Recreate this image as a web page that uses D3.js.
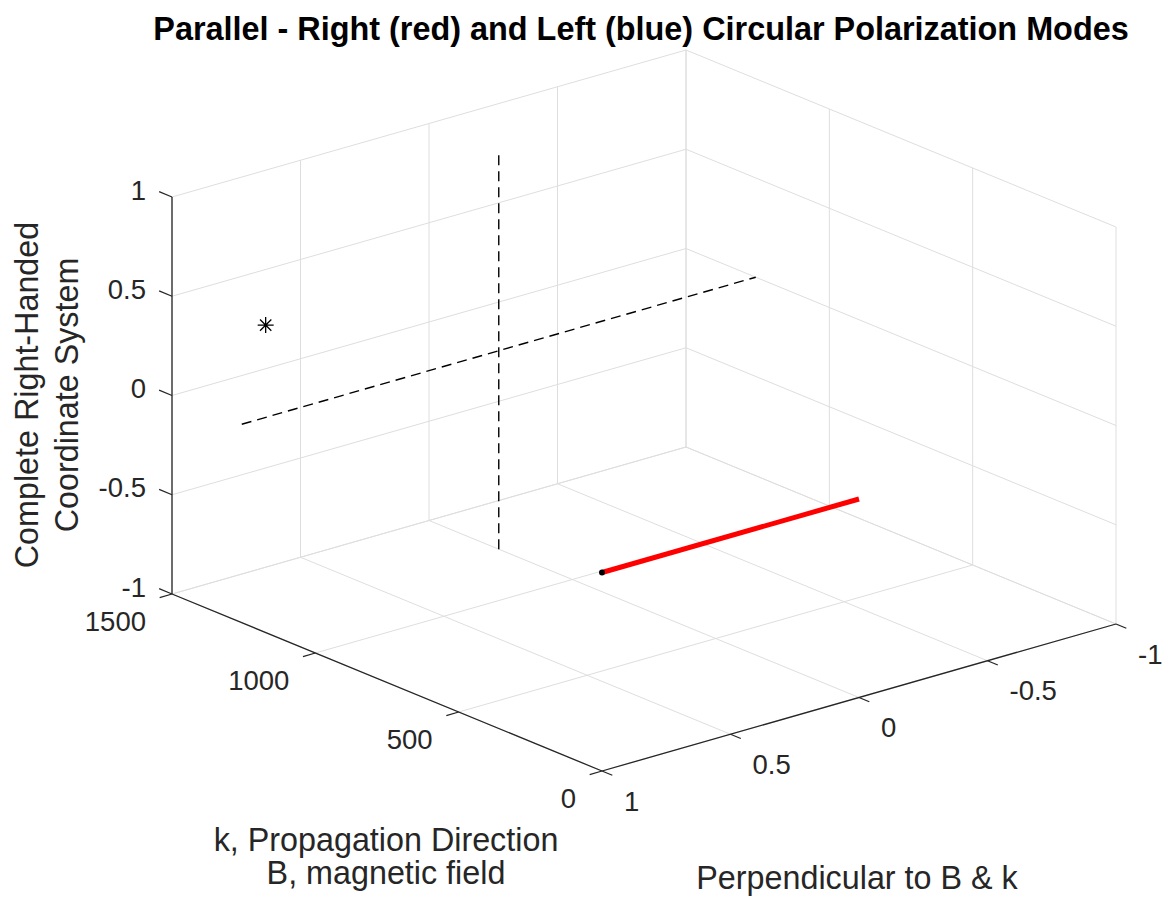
<!DOCTYPE html>
<html>
 <head>
    <script src="https://d3js.org/d3.v7.min.js"></script>
    <style>
      body { margin: 0; background: #fff; }
      text { font-family: "Liberation Sans", Arial, Helvetica, sans-serif; }
    </style>
 </head>
 <body>
    <div id="my_dataviz"></div>
<script>

// axis ticks
var kTicks = [0, 500, 1000, 1500];
var yTicks = [1, 0.5, 0, -0.5, -1];
var zTicks = [-1, -0.5, 0, 0.5, 1];

// k position of the reference cross (400*pi)
var kRef = 400 * Math.PI;

// data lines, points as [k, perpendicular, z]
var dashedVertical = [[kRef, 0, -1], [kRef, 0, 1]];
var dashedAcross = [[kRef, 1, 0], [kRef, -1, 0]];
var redVector = [[0, 1, 0], [0, 0, 0]];
var starPoint = [kRef, 0.907, 0.465];

var titleText = "Parallel - Right (red) and Left (blue) Circular Polarization Modes";
var kLabel = ["k, Propagation Direction", "B, magnetic field"];
var yLabel = "Perpendicular to B & k";
var zLabel = ["Complete Right-Handed", "Coordinate System"];

var width = 1165, height = 901;

var svg = d3.select("#my_dataviz")
  .append("svg")
    .attr("width", width)
    .attr("height", height);

// normalised box coordinates
var kScale = d3.scaleLinear().domain([0, 1500]).range([0, 1]);
var yScale = d3.scaleLinear().domain([1, -1]).range([0, 1]);
var zScale = d3.scaleLinear().domain([-1, 1]).range([0, 1]);

// orthographic view: front-bottom corner and the screen vector of each box edge
var origin = [602, 771],
    ex = [-430, -177],
    ey = [514, -147],
    ez = [0, -397];

function project(p) {
  var u = kScale(p[0]), v = yScale(p[1]), w = zScale(p[2]);
  return [origin[0] + ex[0] * u + ey[0] * v + ez[0] * w,
          origin[1] + ex[1] * u + ey[1] * v + ez[1] * w];
}

var line = d3.line();
function seg(a, b) { return line([project(a), project(b)]); }

var gridColor = "#dedede", axisColor = "#262626";

// grid on the three back planes
var grid = [];
yTicks.forEach(function(y) { grid.push([[1500, y, -1], [1500, y, 1]]); grid.push([[0, y, -1], [1500, y, -1]]); });
zTicks.forEach(function(z) { grid.push([[1500, 1, z], [1500, -1, z]]); grid.push([[0, -1, z], [1500, -1, z]]); });
kTicks.forEach(function(k) { grid.push([[k, -1, -1], [k, -1, 1]]); grid.push([[k, 1, -1], [k, -1, -1]]); });

svg.append("g")
    .attr("fill", "none")
    .attr("stroke", gridColor)
    .attr("stroke-width", 1)
  .selectAll("path")
  .data(grid)
  .join("path")
    .attr("d", function(d) { return seg(d[0], d[1]); });

// axis lines
var axes = [
  [[1500, 1, -1], [1500, 1, 1]],
  [[0, 1, -1], [1500, 1, -1]],
  [[0, 1, -1], [0, -1, -1]]
];
svg.append("g")
    .attr("fill", "none")
    .attr("stroke", axisColor)
    .attr("stroke-width", 1.3)
  .selectAll("path")
  .data(axes)
  .join("path")
    .attr("d", function(d) { return seg(d[0], d[1]); });

// tick marks
var tickLen = 0.03;
var ticks = [];
zTicks.forEach(function(z) { ticks.push([[1500, 1, z], [1500 * (1 + tickLen), 1, z]]); });
kTicks.forEach(function(k) { ticks.push([[k, 1, -1], [k, 1 + 2 * tickLen * 0.8, -1]]); });
yTicks.forEach(function(y) { ticks.push([[0, y, -1], [-1500 * tickLen * 0.8, y, -1]]); });
svg.append("g")
    .attr("stroke", axisColor)
    .attr("stroke-width", 1.3)
  .selectAll("path")
  .data(ticks)
  .join("path")
    .attr("d", function(d) { return seg(d[0], d[1]); });

// tick labels
var tickFont = 27.5;
svg.append("g")
    .attr("font-size", tickFont)
    .attr("fill", axisColor)
    .attr("text-anchor", "end")
  .selectAll("text")
  .data(zTicks)
  .join("text")
    .attr("x", function(d) { return project([1500, 1, d])[0] - 26; })
    .attr("y", function(d) { return project([1500, 1, d])[1] - 7; })
    .attr("dy", "0.35em")
    .text(function(d) { return d; });

svg.append("g")
    .attr("font-size", tickFont)
    .attr("fill", axisColor)
    .attr("text-anchor", "end")
  .selectAll("text")
  .data(kTicks)
  .join("text")
    .attr("x", function(d) { return project([d, 1, -1])[0] - 26; })
    .attr("y", function(d) { return project([d, 1, -1])[1] + 27; })
    .attr("dy", "0.35em")
    .text(function(d) { return d; });

svg.append("g")
    .attr("font-size", tickFont)
    .attr("fill", axisColor)
    .attr("text-anchor", "start")
  .selectAll("text")
  .data(yTicks)
  .join("text")
    .attr("x", function(d) { return project([0, d, -1])[0] + 22; })
    .attr("y", function(d) { return project([0, d, -1])[1] + 30; })
    .attr("dy", "0.35em")
    .text(function(d) { return d; });

// axis labels
var labelFont = 32.3;
svg.append("text")
    .attr("font-size", labelFont)
    .attr("fill", axisColor)
    .attr("text-anchor", "middle")
  .selectAll("tspan")
  .data(kLabel)
  .join("tspan")
    .attr("x", 386)
    .attr("y", function(d, i) { return 851 + i * 33; })
    .text(function(d) { return d; });

svg.append("text")
    .attr("font-size", labelFont)
    .attr("fill", axisColor)
    .attr("text-anchor", "middle")
    .attr("x", 857)
    .attr("y", 889)
    .text(yLabel);

svg.append("text")
    .attr("font-size", labelFont)
    .attr("fill", axisColor)
    .attr("text-anchor", "middle")
    .attr("transform", "translate(0,395) rotate(-90)")
  .selectAll("tspan")
  .data(zLabel)
  .join("tspan")
    .attr("x", 0)
    .attr("y", function(d, i) { return 38 + i * 40; })
    .text(function(d) { return d; });

// title
svg.append("text")
    .attr("x", 641)
    .attr("y", 40)
    .attr("text-anchor", "middle")
    .attr("font-size", 32.4)
    .attr("font-weight", "bold")
    .attr("fill", "#000")
    .text(titleText);

// dashed reference lines
svg.append("g")
    .attr("fill", "none")
    .attr("stroke", "#000")
    .attr("stroke-width", 1.4)
    .attr("stroke-dasharray", "10,6")
  .selectAll("path")
  .data([dashedVertical, dashedAcross])
  .join("path")
    .attr("d", function(d) { return seg(d[0], d[1]); });

// red field vector
svg.append("path")
    .attr("d", seg(redVector[0], redVector[1]))
    .attr("stroke", "#ff0000")
    .attr("stroke-width", 5)
    .attr("fill", "none");

svg.append("circle")
    .attr("cx", project(redVector[0])[0])
    .attr("cy", project(redVector[0])[1])
    .attr("r", 3)
    .attr("fill", "#000");

// asterisk marker
var sp = project(starPoint), r = 8, r2 = r * Math.SQRT1_2;
var star = d3.path();
star.moveTo(sp[0], sp[1] - r); star.lineTo(sp[0], sp[1] + r);
star.moveTo(sp[0] - r, sp[1]); star.lineTo(sp[0] + r, sp[1]);
star.moveTo(sp[0] - r2, sp[1] - r2); star.lineTo(sp[0] + r2, sp[1] + r2);
star.moveTo(sp[0] - r2, sp[1] + r2); star.lineTo(sp[0] + r2, sp[1] - r2);
svg.append("path")
    .attr("d", star.toString())
    .attr("stroke", "#000")
    .attr("stroke-width", 1.3)
    .attr("fill", "none");

</script>
 </body>
</html>
